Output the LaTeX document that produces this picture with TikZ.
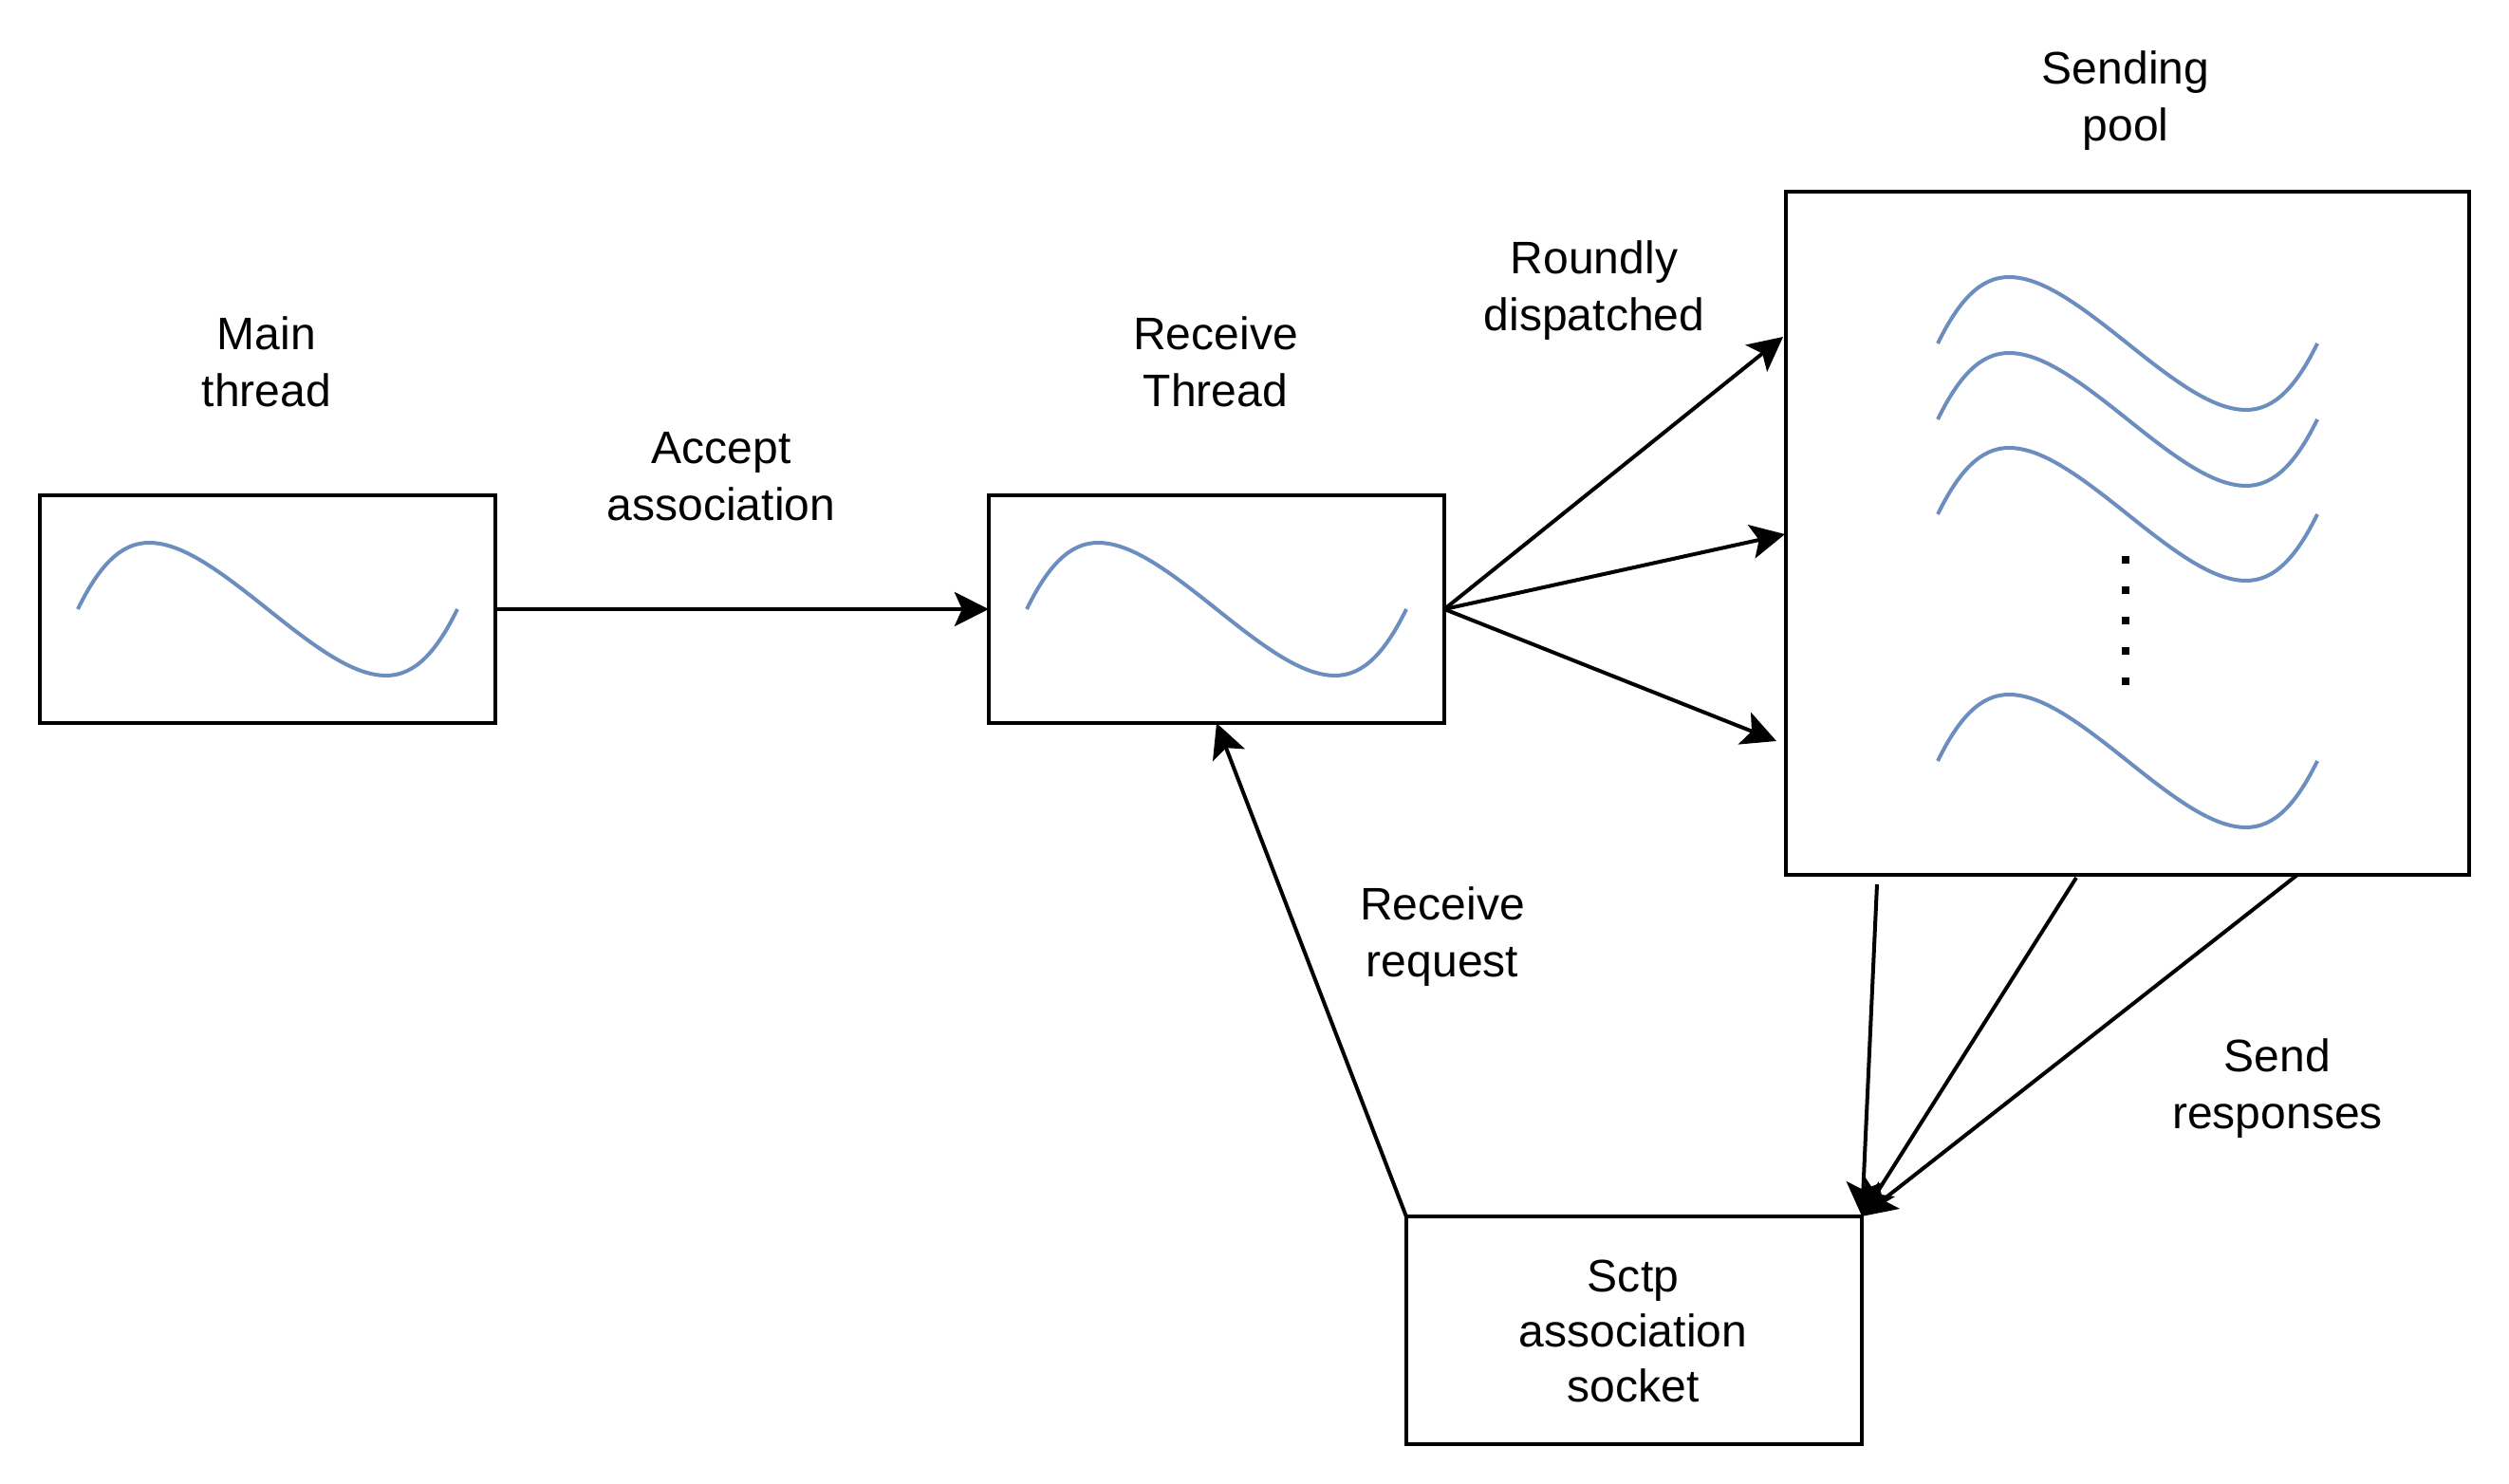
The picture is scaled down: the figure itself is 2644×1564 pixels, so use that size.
\documentclass[tikz,border=0pt]{standalone}
\usepackage{fontspec}
\setmainfont{Liberation Sans}
\usetikzlibrary{arrows.meta}
\definecolor{wavecolor}{HTML}{6C8EBF}
\tikzstyle{thread}=[rectangle,draw=black,line width=0.04cm,outer sep=0pt,inner sep=0pt]
\tikzstyle{edge} = [draw,line width=0.04cm,-{Stealth[length=0.36cm,width=0.36cm,inset=0.08cm]}]
\tikzstyle{weight} = [align=center,inner sep=0pt,font=\fontsize{13.66pt}{17.07pt}\selectfont]
\tikzset{wave/.pic={
  \draw[wavecolor,line width=0.04cm] (0,0) .. controls (22,-45) and (45,-70) .. (75,-70)
    .. controls (110,-70) and (150,-40) .. (200,0)
    .. controls (250,40) and (290,70) .. (325,70)
    .. controls (355,70) and (378,45) .. (400,0);
}}

\begin{document}
\begin{tikzpicture}[x=0.01cm,y=-0.01cm]
    \useasboundingbox (0,0) rectangle (2644,1564);

    % First we draw the boxes
    \foreach \pos/\name/\boxw/\boxh in {{(282,642)/main/4.8cm/2.4cm}, {(1282,642)/recv/4.8cm/2.4cm}, {(2242,562)/pool/7.2cm/7.2cm}, {(1722,1402)/sctp/4.8cm/2.4cm}}
        \node[thread,minimum width=\boxw,minimum height=\boxh] (\name) at \pos {};

    % The curves inside them
    \foreach \pos/\name in {{(82,642)/wmain}, {(1082,642)/wrecv}, {(2042,362)/wa}, {(2042,442)/wb}, {(2042,542)/wc}, {(2042,802)/wd}}
        \pic (\name) at \pos {wave};
    \draw[line width=0.08cm,dash pattern=on 0.08cm off 0.24cm] (2240,586) -- (2240,722);

    % Then the labels
    \foreach \pos/\name/\label in {{(281,381)/lmain/Main\\thread}, {(1281,381)/lrecv/Receive\\Thread}, {(760,502)/laccept/Accept\\association}, {(1680,306)/lround/Roundly\\dispatched}, {(2240,106)/lpool/Sending\\pool}, {(1520,987)/lrequest/Receive\\request}, {(2400,1147)/lsend/Send\\responses}}
        \node[weight] (\name) at \pos {\label};
    \node[weight,font=\fontsize{13.66pt}{16.6pt}\selectfont] (lsctp) at (1721,1403) {Sctp\\association\\socket};

    % Free ends of the connectors
    \foreach \pos/\name in {{(1879,355)/ina}, {(1881,563)/inb}, {(1872,781)/inc}, {(1978,932)/outa}, {(2188,925)/outb}, {(2421,922)/outc}}
        \path \pos coordinate (\name);

    % Connect boxes with edges
    \path[edge] (main.east) -- (recv.west);
    \foreach \dest in {ina, inb, inc}
        \path[edge] (recv.east) -- (\dest);
    \foreach \source in {outa, outb, outc}
        \path[edge] (\source) -- (sctp.north east);
    \path[edge] (sctp.north west) -- (recv.south);
\end{tikzpicture}
\end{document}
